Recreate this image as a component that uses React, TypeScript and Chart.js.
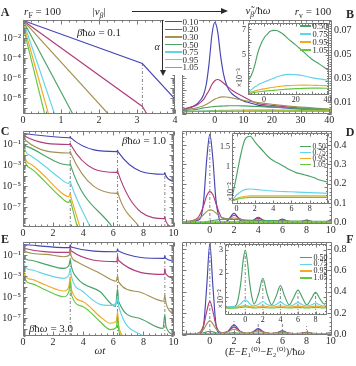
import React, { useEffect, useRef } from "react";
import { Chart, registerables } from "chart.js";

Chart.register(...registerables);

const W = 356;
const H = 366;
const SERIF = '"Liberation Serif", "DejaVu Serif", serif';
const INK = "#2a2a2a";
const FRAME = "#7a7a7a";

// ---------- series labels / colours ----------
const ALPHA_LABELS = ["0.10", "0.20", "0.30", "0.50", "0.75", "0.95", "1.05"];
const COLORS = ["#4646b4", "#b03e7c", "#a39252", "#4aa266", "#62d4ea", "#f2aa26", "#64c83e"];

// ---------- tick labels ----------
const A_XTICKS = [0, 1, 2, 3, 4];
const A_YTICKS = [1e-8, 1e-6, 1e-4, 1e-2];
const CE_XTICKS = [0, 2, 4, 6, 8, 10];
const CE_YTICKS = [1e-7, 1e-5, 1e-3, 1e-1];
const B_XTICKS = [0, 10, 20, 30, 40];
const B_YTICKS = [0.01, 0.03, 0.05, 0.07];
const DF_XTICKS = [0, 2, 4, 6, 8, 10];
const D_YTICKS = [0, 0.1, 0.2, 0.3, 0.4];
const F_YTICKS = [0, 0.2, 0.4, 0.6, 0.8];
const BI_XTICKS = [0, 20, 40];
const BI_YTICKS = [0.005, 0.007];
const DI_XTICKS = [0, 2, 4, 6, 8];
const DI_YTICKS = [0.01, 0.015];
const FI_XTICKS = [0, 2, 4, 6, 8];
const FI_YTICKS = [0.02, 0.03];

// ---------- Panel A : log10 |nu_beta| vs omega t, beta*hbar*omega = 0.1 ----------
const A_x_010 = [0, 3.1416, 4];
const A_y_010 = [-0.25, -4.55, -8.1];
const A_x_020 = [0, 3.1416, 3.26];
const A_y_020 = [-0.25, -8.85, -9.6];
const A_x_030 = [0, 2.245];
const A_y_030 = [-0.25, -9.6];
const A_x_050 = [0, 1.31];
const A_y_050 = [-0.25, -9.6];
const A_x_075 = [0, 0.83];
const A_y_075 = [-0.25, -9.6];
const A_x_095 = [0, 0.03, 0.67];
const A_y_095 = [-0.25, -0.9, -9.6];
const A_x_105 = [0, 0.03, 0.57];
const A_y_105 = [-0.25, -1.3, -9.6];
const A_vx = [3.1416];
const A_vtop = [-4.55];

// ---------- Panel C : beta*hbar*omega = 1.0 (log10) ----------
const C_x_010 = [0, 3.1, 3.1416, 3.18, 6.24, 6.2832, 6.32, 9.38, 9.4248, 9.46, 10];
const C_y_010 = [0.0, -0.4, -0.3, -0.42, -1.72, -1.6, -1.75, -3.88, -3.72, -3.92, -4.6];
const C_x_020 = [0, 0.05, 3.1, 3.1416, 3.18, 6.24, 6.2832, 6.32, 9.38, 9.4248, 9.46, 9.9];
const C_y_020 = [0, -0.2, -1.05, -0.9, -1.1, -3.7, -3.5, -3.75, -8.1, -7.9, -8.2, -8.95];
const C_x_030 = [0, 0.05, 3.1, 3.1416, 3.18, 6.24, 6.2832, 6.32, 7.75];
const C_y_030 = [0, -0.5, -1.85, -1.7, -1.9, -5.7, -5.5, -5.75, -8.95];
const C_x_050 = [0, 0.06, 0.3, 3.08, 3.1416, 3.18, 5.95];
const C_y_050 = [0, -0.9, -1.25, -3.0, -2.85, -3.1, -8.95];
const C_x_075 = [0, 0.08, 0.5, 1.36, 2.47, 3.02, 3.1416, 3.2, 4.47];
const C_y_075 = [0, -1.3, -2.1, -3.0, -4.27, -4.75, -4.55, -4.85, -8.95];
const C_x_095 = [0, 0.08, 0.5, 1.36, 2.47, 3.02, 3.1416, 3.2, 3.8];
const C_y_095 = [0, -2.0, -2.9, -3.95, -5.54, -6.0, -5.75, -6.1, -8.95];
const C_x_105 = [0, 0.08, 0.5, 1.36, 2.47, 3.02, 3.1416, 3.2, 3.62];
const C_y_105 = [0, -2.3, -3.3, -4.43, -6.0, -6.56, -6.3, -6.65, -8.95];
const C_vx = [3.1416, 6.2832, 9.4248];
const C_vtop = [-0.3, -1.6, -3.72];

// ---------- Panel E : beta*hbar*omega = 3.0 (log10) ----------
const E_x_010 = [0, 3.1, 3.1416, 3.19, 6.24, 6.2832, 6.33, 9.38, 9.4248, 9.47, 10];
const E_y_010 = [0.0, -0.3, -0.02, -0.24, -0.69, -0.4, -0.62, -1.32, -1.06, -1.3, -1.57];
const E_x_020 = [0, 0.05, 3.1, 3.1416, 3.19, 6.24, 6.2832, 6.33, 9.38, 9.4248, 9.47, 10];
const E_y_020 = [0, -0.35, -0.75, -0.25, -0.6, -1.63, -1.05, -1.5, -2.84, -2.3, -2.73, -3.2];
const E_x_030 = [0, 0.05, 1.5, 2.7, 3.05, 3.1416, 3.2, 3.58, 5.13, 6.2, 6.2832, 6.35, 7.67, 9.35, 9.4248, 9.5, 10];
const E_y_030 = [0, -0.62, -0.94, -1.16, -1.05, -0.55, -1.1, -1.63, -2.75, -3.5, -2.95, -3.55, -4.5, -5.4, -4.85, -5.55, -6.7];
const E_x_050 = [0, 0.05, 0.5, 1.5, 2.7, 3.05, 3.1416, 3.2, 3.6, 5.13, 6.15, 6.2832, 6.35, 7.67, 9.3, 9.4248, 9.5, 10];
const E_y_050 = [0, -1.16, -1.5, -1.89, -2.27, -2.0, -1.4, -2.0, -3.2, -4.5, -5.9, -4.2, -5.4, -7.0, -8.0, -6.7, -7.8, -8.6];
const E_x_075 = [0, 0.05, 0.5, 1.5, 2.7, 3.05, 3.1416, 3.22, 4.0, 5.13, 5.8, 6.2, 6.2832, 6.36, 8.0];
const E_y_075 = [0, -1.8, -2.4, -2.84, -3.22, -2.9, -2.27, -3.06, -4.5, -5.7, -5.8, -5.55, -4.97, -5.9, -8.75];
const E_x_095 = [0, 0.05, 0.5, 1.5, 2.7, 3.05, 3.1416, 3.22, 4.0, 5.13, 5.8, 6.2, 6.2832, 6.36, 6.62];
const E_y_095 = [0, -2.59, -3.3, -3.86, -4.43, -4.0, -3.06, -4.3, -5.45, -6.87, -7.5, -7.3, -6.4, -7.67, -8.75];
const E_x_105 = [0, 0.05, 0.5, 1.5, 2.7, 3.05, 3.1416, 3.22, 4.0, 5.13, 5.8, 6.2, 6.2832, 6.36, 6.5];
const E_y_105 = [0, -2.9, -3.7, -4.33, -4.97, -4.5, -3.54, -4.8, -5.92, -7.35, -8.1, -7.9, -6.87, -8.13, -8.75];
const E_vx = [3.1416, 6.2832, 9.4248];
const E_vtop = [-0.02, -0.4, -1.06];

// ---------- Panel B : nu~_beta / hbar omega ----------
const B_x = [-11.5, -8, -6, -4, -3, -2, -1, 0, 1, 2, 3, 4, 5, 6, 8, 10, 12, 15, 20, 25, 30, 35, 41];
const B_010 = [0.0035, 0.006, 0.009, 0.016, 0.025, 0.043, 0.067, 0.077, 0.069, 0.049, 0.034, 0.025, 0.02, 0.017, 0.0135, 0.011, 0.0095, 0.0075, 0.006, 0.005, 0.004, 0.0034, 0.0028];
const B_020 = [0.004, 0.006, 0.008, 0.012, 0.016, 0.02, 0.025, 0.028, 0.029, 0.028, 0.026, 0.024, 0.022, 0.02, 0.017, 0.0145, 0.012, 0.0088, 0.0072, 0.006, 0.005, 0.004, 0.0028];
const B_030 = [0.0035, 0.0045, 0.0055, 0.007, 0.008, 0.0095, 0.011, 0.0125, 0.0135, 0.0142, 0.0144, 0.0143, 0.014, 0.0135, 0.0125, 0.0115, 0.0106, 0.0097, 0.0082, 0.0068, 0.0058, 0.0049, 0.0041];
const B_050 = [0.0028, 0.0034, 0.0041, 0.0051, 0.0055, 0.0058, 0.0061, 0.0063, 0.0065, 0.0066, 0.00675, 0.00685, 0.0069, 0.00693, 0.00692, 0.0068, 0.00665, 0.0063, 0.0058, 0.00525, 0.0047, 0.0043, 0.0038];
const B_075 = [0.002, 0.0023, 0.0025, 0.00265, 0.00275, 0.0028, 0.00285, 0.0029, 0.00295, 0.003, 0.00305, 0.0031, 0.00315, 0.0032, 0.0033, 0.00338, 0.00345, 0.0035, 0.00348, 0.0034, 0.00325, 0.00315, 0.00304];
const B_095 = [0.002, 0.00215, 0.0022, 0.00228, 0.0023, 0.00233, 0.00236, 0.00238, 0.0024, 0.00242, 0.00244, 0.00246, 0.00248, 0.0025, 0.00254, 0.00257, 0.0026, 0.00263, 0.00266, 0.00267, 0.00266, 0.00264, 0.00262];
const B_105 = [0.00195, 0.00205, 0.0021, 0.00213, 0.00215, 0.00217, 0.00218, 0.0022, 0.00221, 0.00222, 0.00223, 0.00224, 0.00225, 0.00226, 0.00229, 0.00231, 0.00233, 0.00236, 0.0024, 0.00242, 0.00243, 0.00243, 0.00242];

// ---------- Panels D and F : spectra vs (E - E1 - E2)/hbar omega ----------
const DF_x = [-2.3, -1.5, -1, -0.75, -0.5, -0.25, 0, 0.25, 0.5, 0.75, 1, 1.5, 2, 2.5, 3, 3.5, 4, 4.5, 5, 5.5, 6, 6.5, 7, 7.5, 8, 8.5, 9, 9.5, 10, 10.1];
const D_010 = [0.004, 0.006, 0.012, 0.026, 0.12, 0.33, 0.455, 0.33, 0.12, 0.026, -0.004, 0.012, 0.048, 0.012, -0.004, 0.006, 0.028, 0.007, -0.003, 0.004, 0.018, 0.004, -0.002, 0.003, 0.013, 0.003, -0.002, 0.003, 0.01, 0.009];
const D_020 = [0.005, 0.01, 0.025, 0.05, 0.09, 0.14, 0.16, 0.145, 0.1, 0.055, 0.025, 0.018, 0.038, 0.02, 0.007, 0.01, 0.022, 0.012, 0.005, 0.008, 0.015, 0.008, 0.004, 0.006, 0.011, 0.006, 0.004, 0.005, 0.009, 0.009];
const D_030 = [0.004, 0.008, 0.018, 0.028, 0.042, 0.058, 0.066, 0.062, 0.05, 0.036, 0.026, 0.02, 0.024, 0.017, 0.01, 0.01, 0.014, 0.01, 0.007, 0.007, 0.01, 0.007, 0.006, 0.006, 0.008, 0.006, 0.005, 0.005, 0.007, 0.007];
const D_050 = [0.0015, 0.0018, 0.002, 0.0022, 0.0026, 0.005, 0.0078, 0.0108, 0.0135, 0.0158, 0.0172, 0.0177, 0.0163, 0.015, 0.0137, 0.0125, 0.0116, 0.011, 0.0104, 0.0097, 0.0091, 0.0086, 0.0083, 0.008, 0.0077, 0.0073, 0.0068, 0.0065, 0.0063, 0.0063];
const D_lo_x = [-2.3, -1, -0.5, 0, 0.5, 1, 1.5, 2, 4, 6, 8, 10.1];
const D_075 = [0.0012, 0.0016, 0.0018, 0.003, 0.0039, 0.0044, 0.0045, 0.0044, 0.004, 0.0038, 0.0036, 0.0034];
const D_095 = [0.0012, 0.0014, 0.0016, 0.0021, 0.0025, 0.0027, 0.0028, 0.0028, 0.0028, 0.0028, 0.0028, 0.0028];
const D_105 = [0.0011, 0.0013, 0.0015, 0.0019, 0.0022, 0.0023, 0.0024, 0.0024, 0.0024, 0.0024, 0.0024, 0.0024];
const D_vx = [0];
const D_vtop = [0.455];

const F_010 = [0.002, 0.003, 0.006, 0.015, 0.1, 0.46, 0.85, 0.46, 0.1, 0.015, 0.006, 0.03, 0.09, 0.03, 0.005, 0.018, 0.055, 0.018, 0.004, 0.012, 0.035, 0.012, 0.003, 0.008, 0.022, 0.008, 0.003, 0.006, 0.015, 0.014];
const F_020 = [0.003, 0.005, 0.012, 0.03, 0.09, 0.22, 0.31, 0.22, 0.09, 0.03, 0.015, 0.03, 0.07, 0.03, 0.012, 0.022, 0.045, 0.022, 0.01, 0.016, 0.03, 0.016, 0.008, 0.012, 0.02, 0.011, 0.007, 0.009, 0.015, 0.015];
const F_030 = [0.004, 0.006, 0.013, 0.025, 0.05, 0.1, 0.13, 0.1, 0.055, 0.028, 0.018, 0.025, 0.05, 0.027, 0.015, 0.02, 0.035, 0.02, 0.012, 0.015, 0.025, 0.015, 0.01, 0.012, 0.018, 0.011, 0.008, 0.009, 0.013, 0.013];
const F_050 = [0.0054, 0.0056, 0.0065, 0.01, 0.016, 0.025, 0.03, 0.025, 0.016, 0.01, 0.0068, 0.011, 0.0179, 0.011, 0.0065, 0.01, 0.0147, 0.01, 0.0065, 0.0095, 0.0128, 0.0095, 0.0065, 0.009, 0.0118, 0.009, 0.0068, 0.0085, 0.011, 0.011];
const F_075 = [0.0055, 0.0056, 0.0058, 0.0062, 0.007, 0.008, 0.0085, 0.008, 0.007, 0.0062, 0.006, 0.0066, 0.0078, 0.0066, 0.006, 0.0065, 0.0076, 0.0065, 0.006, 0.0065, 0.0074, 0.0065, 0.006, 0.0064, 0.0072, 0.0064, 0.006, 0.0063, 0.007, 0.007];
const F_095 = [0.0052, 0.0053, 0.0054, 0.0056, 0.0058, 0.006, 0.0062, 0.006, 0.0058, 0.0056, 0.0055, 0.0057, 0.006, 0.0057, 0.0055, 0.0057, 0.006, 0.0057, 0.0055, 0.0057, 0.0059, 0.0057, 0.0055, 0.0057, 0.0059, 0.0057, 0.0055, 0.0056, 0.0058, 0.0058];
const F_105 = [0.005, 0.005, 0.0051, 0.0052, 0.0053, 0.0055, 0.0056, 0.0055, 0.0053, 0.0052, 0.0051, 0.0052, 0.0054, 0.0052, 0.0051, 0.0052, 0.0054, 0.0052, 0.0051, 0.0052, 0.0053, 0.0052, 0.0051, 0.0052, 0.0053, 0.0052, 0.0051, 0.0051, 0.0052, 0.0052];
const F_vx = [0, 2, 4, 6, 8];
const F_vtop = [0.85, 0.14, 0.12, 0.1, 0.08];
const FI_vtop = [0.03, 0.0179, 0.0147, 0.0128, 0.0118];

// ---------- helpers ----------
const SUPS = "⁰¹²³⁴⁵⁶⁷⁸⁹";
const sup = (n: number) =>
  String(n).split("").map((c) => (c === "-" ? "⁻" : SUPS[Number(c)])).join("");
const pow10Label = (v: number) => "10" + sup(Math.round(Math.log10(v)));
const steps = (a: number, b: number, s: number) => {
  const out: number[] = [];
  const n = Math.round((b - a) / s);
  for (let i = 0; i <= n; i++) out.push(+(a + i * s).toFixed(7));
  return out;
};
const decades = (k0: number, k1: number) => steps(k0, k1, 1).map((k) => Math.pow(10, k));
const logMinors = (k0: number, k1: number) => {
  const out: number[] = [];
  for (let k = k0; k <= k1; k++) for (let m = 2; m <= 9; m++) out.push(m * Math.pow(10, k));
  return out;
};
const ALL7 = [0, 1, 2, 3, 4, 5, 6];
const LOW4 = [3, 4, 5, 6];

const curves = (pairs: number[][][], idx: number[], o: { log?: boolean; smooth?: boolean } = {}) =>
  pairs.map(([xs, ys], k) => ({
    data: xs.map((x, i) => ({ x, y: o.log ? Math.pow(10, ys[i]) : ys[i] })),
    borderColor: COLORS[idx[k]],
    borderWidth: 1.15,
    pointRadius: 0,
    fill: false,
    cubicInterpolationMode: o.smooth ? "monotone" : "default",
    tension: 0,
    order: 10 - idx[k],
  }));

const vlines = (xs: number[], tops: number[], bottom: number, log = false) =>
  xs.map((x, i) => ({
    data: [{ x, y: bottom }, { x, y: log ? Math.pow(10, tops[i]) : tops[i] }],
    borderColor: "#777",
    borderWidth: 0.9,
    borderDash: [3, 2, 1, 2],
    pointRadius: 0,
    fill: false,
    order: 100,
  }));

type Axis = {
  min: number; max: number; log?: boolean;
  labels: number[]; fmt: (v: number) => string;
  major: number[]; minor: number[];
  size?: number; pad?: number; side?: "left" | "right"; thick: number;
};
type Spec = { box: number[]; x: Axis; y: Axis; datasets: any[]; bg?: boolean; ml?: number; nl?: number };

function makeChart(canvas: HTMLCanvasElement, p: Spec) {
  const [L, T, R, B] = p.box;
  const ml = p.ml ?? 4;
  const nl = p.nl ?? 2;
  const ySide = p.y.side ?? "left";
  const padding = {
    left: ySide === "left" ? L - p.y.thick : L,
    right: ySide === "right" ? W - R - p.y.thick : W - R,
    top: T,
    bottom: H - B - p.x.thick,
  };
  const frame = {
    id: "frame",
    beforeDatasetsDraw(chart: any) {
      if (!p.bg) return;
      const a = chart.chartArea;
      const ctx = chart.ctx;
      ctx.save();
      ctx.fillStyle = "#fff";
      ctx.fillRect(a.left, a.top, a.right - a.left, a.bottom - a.top);
      ctx.restore();
    },
    afterDraw(chart: any) {
      const a = chart.chartArea;
      const ctx = chart.ctx;
      const sx = chart.scales.x;
      const sy = chart.scales.y;
      const l = Math.round(a.left) + 0.5;
      const r = Math.round(a.right) - 0.5;
      const t = Math.round(a.top) + 0.5;
      const b = Math.round(a.bottom) - 0.5;
      ctx.save();
      ctx.strokeStyle = FRAME;
      ctx.lineWidth = 1;
      ctx.beginPath();
      const xt = (vals: number[], len: number) =>
        vals.filter((v) => v >= p.x.min && v <= p.x.max).forEach((v) => {
          const px = Math.round(sx.getPixelForValue(v)) + 0.5;
          ctx.moveTo(px, b); ctx.lineTo(px, b - len);
          ctx.moveTo(px, t); ctx.lineTo(px, t + len);
        });
      const yt = (vals: number[], len: number) =>
        vals.filter((v) => v >= p.y.min && v <= p.y.max).forEach((v) => {
          const py = Math.round(sy.getPixelForValue(v)) + 0.5;
          ctx.moveTo(l, py); ctx.lineTo(l + len, py);
          ctx.moveTo(r, py); ctx.lineTo(r - len, py);
        });
      xt(p.x.major, ml); xt(p.x.minor, nl);
      yt(p.y.major, ml); yt(p.y.minor, nl);
      ctx.rect(l, t, r - l, b - t);
      ctx.stroke();
      ctx.restore();
    },
  };
  const axis = (a: Axis, horiz: boolean) => ({
    type: a.log ? "logarithmic" : "linear",
    position: horiz ? "bottom" : a.side ?? "left",
    min: a.min,
    max: a.max,
    bounds: "data",
    grid: { display: false, drawTicks: false },
    border: { display: false },
    afterFit: (s: any) => {
      if (horiz) s.height = a.thick;
      else s.width = a.thick;
    },
    afterBuildTicks: (s: any) => {
      s.ticks = a.labels.map((v) => ({ value: v }));
    },
    ticks: {
      autoSkip: false, maxRotation: 0, minRotation: 0,
      padding: a.pad ?? 2, color: INK,
      font: { family: SERIF, size: a.size ?? 10 },
      callback: (v: any) => a.fmt(Number(v)),
    },
  });
  return new Chart(canvas, {
    type: "line",
    data: { datasets: p.datasets },
    options: {
      animation: false,
      responsive: false,
      maintainAspectRatio: false,
      events: [],
      parsing: false,
      layout: { padding },
      plugins: { legend: { display: false }, tooltip: { enabled: false } },
      scales: { x: axis(p.x, true), y: axis(p.y, false) },
    } as any,
    plugins: [frame],
  } as any);
}

function buildSpecs(): Spec[] {
  const lin = (v: number) => String(v);
  const logA = { min: Math.pow(10, -9.6), max: Math.pow(10, -0.2) };
  const logC = { min: Math.pow(10, -8.9), max: Math.pow(10, 0.24) };
  const logE = { min: Math.pow(10, -8.71), max: Math.pow(10, 0.24) };

  const A: Spec = {
    box: [23, 20, 175, 114],
    x: { min: 0, max: 4, labels: A_XTICKS, fmt: lin, major: steps(0, 4, 1), minor: steps(0, 4, 0.2), thick: 14, pad: 0 },
    y: { ...logA, log: true, labels: A_YTICKS, fmt: pow10Label, major: decades(-9, -1), minor: logMinors(-10, -1), thick: 23 },
    datasets: [
      ...curves([[A_x_010, A_y_010], [A_x_020, A_y_020], [A_x_030, A_y_030], [A_x_050, A_y_050], [A_x_075, A_y_075], [A_x_095, A_y_095], [A_x_105, A_y_105]], ALL7, { log: true }),
      ...vlines(A_vx, A_vtop, logA.min, true),
    ],
  };
  const B: Spec = {
    box: [182, 20, 332, 114],
    x: { min: -11.5, max: 41, labels: B_XTICKS, fmt: lin, major: steps(-10, 40, 10), minor: steps(-10, 40, 2), thick: 14, pad: 0 },
    y: { min: 0, max: 0.079, labels: B_YTICKS, fmt: (v) => v.toFixed(2), major: steps(0, 0.07, 0.01), minor: steps(0, 0.078, 0.002), side: "right", thick: 24 },
    datasets: curves([[B_x, B_010], [B_x, B_020], [B_x, B_030], [B_x, B_050], [B_x, B_075], [B_x, B_095], [B_x, B_105]], ALL7, { smooth: true }),
  };
  const C: Spec = {
    box: [23, 131, 173.5, 227],
    x: { min: 0, max: 10, labels: CE_XTICKS, fmt: lin, major: steps(0, 10, 2), minor: steps(0, 10, 0.4), thick: 14, pad: 0 },
    y: { ...logC, log: true, labels: CE_YTICKS, fmt: pow10Label, major: decades(-8, 0), minor: logMinors(-9, 0), thick: 23 },
    datasets: [
      ...curves([[C_x_010, C_y_010], [C_x_020, C_y_020], [C_x_030, C_y_030], [C_x_050, C_y_050], [C_x_075, C_y_075], [C_x_095, C_y_095], [C_x_105, C_y_105]], ALL7, { log: true, smooth: true }),
      ...vlines(C_vx, C_vtop, logC.min, true),
    ],
  };
  const D: Spec = {
    box: [182, 131, 332, 224],
    x: { min: -2.3, max: 10.1, labels: DF_XTICKS, fmt: lin, major: steps(-2, 10, 2), minor: steps(-2, 10, 0.4), thick: 14, pad: 0 },
    y: { min: -0.007, max: 0.472, labels: D_YTICKS, fmt: (v) => v.toFixed(1), major: steps(0, 0.4, 0.1), minor: steps(0, 0.46, 0.02), side: "right", thick: 24 },
    datasets: [
      ...curves([[DF_x, D_010], [DF_x, D_020], [DF_x, D_030], [DF_x, D_050], [D_lo_x, D_075], [D_lo_x, D_095], [D_lo_x, D_105]], ALL7, { smooth: true }),
      ...vlines(D_vx, D_vtop, -0.007),
    ],
  };
  const E: Spec = {
    box: [23, 242, 173.5, 336],
    x: { min: 0, max: 10, labels: CE_XTICKS, fmt: lin, major: steps(0, 10, 2), minor: steps(0, 10, 0.4), thick: 14, pad: 0 },
    y: { ...logE, log: true, labels: CE_YTICKS, fmt: pow10Label, major: decades(-8, 0), minor: logMinors(-9, 0), thick: 23 },
    datasets: [
      ...curves([[E_x_010, E_y_010], [E_x_020, E_y_020], [E_x_030, E_y_030], [E_x_050, E_y_050], [E_x_075, E_y_075], [E_x_095, E_y_095], [E_x_105, E_y_105]], ALL7, { log: true, smooth: true }),
      ...vlines(E_vx, E_vtop, logE.min, true),
    ],
  };
  const F: Spec = {
    box: [182, 242, 332, 335],
    x: { min: -2.3, max: 10.1, labels: DF_XTICKS, fmt: lin, major: steps(-2, 10, 2), minor: steps(-2, 10, 0.4), thick: 14, pad: 0 },
    y: { min: -0.004, max: 0.865, labels: F_YTICKS, fmt: (v) => v.toFixed(1), major: steps(0, 0.8, 0.2), minor: steps(0, 0.86, 0.04), side: "right", thick: 24 },
    datasets: [
      ...curves([[DF_x, F_010], [DF_x, F_020], [DF_x, F_030], [DF_x, F_050], [DF_x, F_075], [DF_x, F_095], [DF_x, F_105]], ALL7, { smooth: true }),
      ...vlines(F_vx, F_vtop, -0.004),
    ],
  };
  const BI: Spec = {
    box: [248, 23, 329, 95], bg: true, ml: 3, nl: 1.5,
    x: { min: -10, max: 41, labels: BI_XTICKS, fmt: lin, major: steps(0, 40, 10), minor: steps(-10, 40, 2), size: 8, thick: 10, pad: 0 },
    y: { min: 0.0019, max: 0.0075, labels: BI_YTICKS, fmt: (v) => String(Math.round(v * 1000)), major: steps(0.002, 0.007, 0.001), minor: steps(0.002, 0.0074, 0.0002), size: 8, thick: 12, pad: 2 },
    datasets: curves([[B_x, B_050], [B_x, B_075], [B_x, B_095], [B_x, B_105]], LOW4, { smooth: true }),
  };
  const DI: Spec = {
    box: [232, 133, 328, 204], bg: true, ml: 3, nl: 1.5,
    x: { min: -0.5, max: 10, labels: DI_XTICKS, fmt: lin, major: steps(0, 10, 2), minor: steps(0, 10, 0.4), size: 8, thick: 10, pad: 0 },
    y: { min: 0.00075, max: 0.0185, labels: DI_YTICKS, fmt: (v) => String(Math.round(v * 1000) / 10), major: [0.005, 0.01, 0.015], minor: steps(0.001, 0.018, 0.001), size: 8, thick: 14, pad: 2 },
    datasets: curves([[DF_x, D_050], [D_lo_x, D_075], [D_lo_x, D_095], [D_lo_x, D_105]], LOW4, { smooth: true }),
  };
  const FI: Spec = {
    box: [225, 244, 327, 315], bg: true, ml: 3, nl: 1.5,
    x: { min: -2.3, max: 9.3, labels: FI_XTICKS, fmt: lin, major: steps(-2, 8, 2), minor: steps(-2, 9.2, 0.4), size: 8, thick: 10, pad: 0 },
    y: { min: 0.0021, max: 0.0326, labels: FI_YTICKS, fmt: (v) => String(Math.round(v * 100)), major: [0.01, 0.02, 0.03], minor: steps(0.004, 0.032, 0.002), size: 8, thick: 12, pad: 2 },
    datasets: [
      ...curves([[DF_x, F_050], [DF_x, F_075], [DF_x, F_095], [DF_x, F_105]], LOW4, { smooth: true }),
      ...vlines(F_vx, FI_vtop, 0.0021),
    ],
  };
  return [A, B, C, D, E, F, BI, DI, FI];
}

// ---------- HTML text helpers ----------
const Txt = ({ x, y, size = 10, anchor = "middle", bold = false, rot = 0, children }: any) => {
  const tx = anchor === "start" ? "0%" : anchor === "end" ? "-100%" : "-50%";
  return (
    <div
      style={{
        position: "absolute", left: x, top: y,
        transform: `translate(${tx}, -50%)${rot ? ` rotate(${rot}deg)` : ""}`,
        fontFamily: SERIF, fontSize: size, fontWeight: bold ? 700 : 400,
        color: INK, whiteSpace: "nowrap", lineHeight: 1,
      }}
    >
      {children}
    </div>
  );
};
const Sub = ({ children }: any) => <sub style={{ fontSize: "70%", lineHeight: 0 }}>{children}</sub>;
const Seg = ({ x, y, w, color, h = 1.5 }: any) => (
  <div style={{ position: "absolute", left: x, top: y - h / 2, width: w, height: h, background: color }} />
);

const Legend = ({ idx, x0, x1, tx, y0, dy, size }: any) => (
  <>
    {idx.map((k: number, i: number) => (
      <React.Fragment key={k}>
        <Seg x={x0} y={y0 + i * dy} w={x1 - x0} color={COLORS[k]} />
        <Txt x={tx} y={y0 + i * dy} size={size} anchor="start">{ALPHA_LABELS[k]}</Txt>
      </React.Fragment>
    ))}
  </>
);

const BHW = ({ v }: any) => (
  <>
    <i>β</i>ħ<i>ω</i> = {v}
  </>
);

export default function App() {
  const refs = useRef<(HTMLCanvasElement | null)[]>([]);
  useEffect(() => {
    const specs = buildSpecs();
    const charts = specs.map((s, i) => makeChart(refs.current[i] as HTMLCanvasElement, s));
    return () => charts.forEach((c) => c.destroy());
  }, []);

  return (
    <div style={{ position: "absolute", left: 0, top: 0, width: W, height: H, background: "#fff", overflow: "hidden" }}>
      {Array.from({ length: 9 }).map((_, i) => (
        <canvas
          key={i}
          ref={(el) => { refs.current[i] = el; }}
          width={W}
          height={H}
          style={{ position: "absolute", left: 0, top: 0, width: W, height: H }}
        />
      ))}

      {/* panel letters */}
      <Txt x={5} y={12} size={12} bold>A</Txt>
      <Txt x={350} y={14} size={12} bold>B</Txt>
      <Txt x={5} y={131} size={12} bold>C</Txt>
      <Txt x={350} y={132} size={12} bold>D</Txt>
      <Txt x={5} y={239} size={12} bold>E</Txt>
      <Txt x={350} y={239} size={12} bold>F</Txt>

      {/* header */}
      <Txt x={42.5} y={11} size={11}><i>r</i><Sub>F</Sub> = 100</Txt>
      <Txt x={99} y={11} size={11}>|<i>ν</i><Sub><i>β</i></Sub>|</Txt>
      <div style={{ position: "absolute", left: 132, top: 11.2, width: 90, height: 1, background: INK }} />
      <div style={{ position: "absolute", left: 221, top: 8.2, width: 0, height: 0, borderTop: "3.5px solid transparent", borderBottom: "3.5px solid transparent", borderLeft: "7px solid " + INK }} />
      <Txt x={258} y={10} size={11}><i>ν̃</i><Sub><i>β</i></Sub>/ħ<i>ω</i></Txt>
      <Txt x={313} y={11} size={11}><i>r</i><Sub>v</Sub> = 100</Txt>

      {/* main alpha legend */}
      <div style={{ position: "absolute", left: 164, top: 17, width: 35, height: 58, background: "#fff" }} />
      <div style={{ position: "absolute", left: 162.2, top: 20, width: 1, height: 50, background: INK }} />
      <div style={{ position: "absolute", left: 159.7, top: 70, width: 0, height: 0, borderLeft: "3px solid transparent", borderRight: "3px solid transparent", borderTop: "6px solid " + INK }} />
      <Txt x={157} y={47} size={10}><i>α</i></Txt>
      <Legend idx={ALL7} x0={165} x1={181.5} tx={182.5} y0={21.7} dy={7.6} size={9} />

      {/* panel annotations */}
      <Txt x={99} y={31.7} size={11}><BHW v="0.1" /></Txt>
      <Txt x={144} y={140} size={11}><BHW v="1.0" /></Txt>
      <Txt x={51} y={328} size={11}><BHW v="3.0" /></Txt>
      <Txt x={100} y={350} size={11}><i>ωt</i></Txt>
      <Txt x={265} y={352} size={10.5}>
        (<i>E</i>−<i>E</i>₁⁽⁰⁾−<i>E</i>₂⁽⁰⁾)/ħ<i>ω</i>
      </Txt>

      {/* insets */}
      <Txt x={240} y={77.5} size={8} rot={-90}>×10⁻³</Txt>
      <Legend idx={LOW4} x0={300} x1={311} tx={312.5} y0={26} dy={8} size={8.5} />
      <Txt x={231} y={192} size={8} rot={-90}>×10⁻²</Txt>
      <Legend idx={LOW4} x0={300} x1={311} tx={312.5} y0={146.5} dy={6} size={7.5} />
      <Txt x={221} y={299} size={8} rot={-90}>×10⁻²</Txt>
      <Legend idx={LOW4} x0={300} x1={312} tx={313.5} y0={257.7} dy={6.7} size={8} />
    </div>
  );
}
